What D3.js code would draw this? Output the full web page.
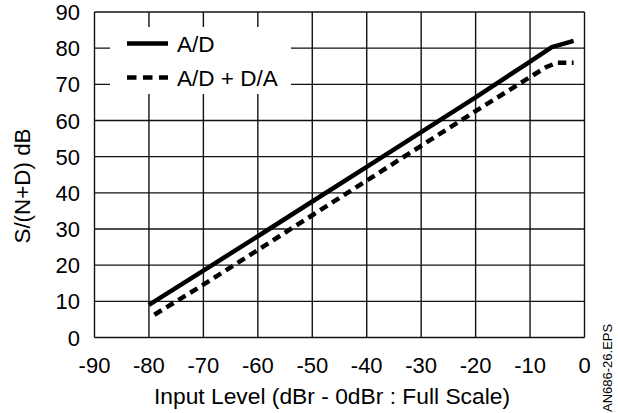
<!DOCTYPE html>
<html>
<head>
<meta charset="utf-8">
<script src="https://cdn.jsdelivr.net/npm/d3@7"></script>
<style>
  body { margin: 0; background: #fff; }
  text { font-family: "Liberation Sans", Arial, sans-serif; fill: #000; }
</style>
</head>
<body>
<div id="chart"></div>
<script>
// data
const xTicks = [-90, -80, -70, -60, -50, -40, -30, -20, -10, 0];
const yTicks = [0, 10, 20, 30, 40, 50, 60, 70, 80, 90];

const adLevel = [-80, -70, -60, -50, -40, -30, -20, -10, -6, -2];
const adSnr   = [9, 18.5, 28, 37.6, 47.2, 56.8, 66.4, 76.3, 80.3, 82];

const addaLevel = [-79, -70, -60, -50, -40, -30, -20, -10, -7, -5, -2];
const addaSnr   = [6.3, 14.6, 24.2, 33.8, 43.4, 53, 62.6, 72, 74.8, 76, 76];

const seriesNames = ["A/D", "A/D + D/A"];

// 1. svg
const width = 618, height = 413;
const margin = { top: 12, left: 94.5, right: 33.5, bottom: 75.5 };

const svg = d3.select("#chart")
    .append("svg")
    .attr("width", width)
    .attr("height", height);

// 2. scales
const xScale = d3.scaleLinear()
    .domain([-90, 0])
    .range([margin.left, width - margin.right]);

const yScale = d3.scaleLinear()
    .domain([0, 90])
    .range([height - margin.bottom, margin.top]);

// 3. grid
const grid = svg.append("g")
    .attr("stroke", "#111")
    .attr("stroke-width", 1.4);

grid.selectAll("line.v")
    .data(xTicks)
    .enter()
    .append("line")
        .attr("class", "v")
        .attr("x1", d => xScale(d))
        .attr("x2", d => xScale(d))
        .attr("y1", yScale(0))
        .attr("y2", yScale(90));

grid.selectAll("line.h")
    .data(yTicks)
    .enter()
    .append("line")
        .attr("class", "h")
        .attr("x1", xScale(-90))
        .attr("x2", xScale(0))
        .attr("y1", d => yScale(d))
        .attr("y2", d => yScale(d));

// 4. legend box hides the grid behind it
svg.append("rect")
    .attr("x", 110)
    .attr("y", 27)
    .attr("width", 181)
    .attr("height", 67)
    .attr("fill", "#fff");

// 5. lines
const line = d3.line()
    .x(d => xScale(d[0]))
    .y(d => yScale(d[1]));

svg.append("path")
    .datum(d3.zip(adLevel, adSnr))
    .attr("fill", "none")
    .attr("stroke", "#000")
    .attr("stroke-width", 4.5)
    .attr("stroke-linejoin", "round")
    .attr("d", line);

svg.append("path")
    .datum(d3.zip(addaLevel, addaSnr))
    .attr("fill", "none")
    .attr("stroke", "#000")
    .attr("stroke-width", 4.5)
    .attr("stroke-dasharray", "8.5,5.5")
    .attr("d", line);

// 6. legend
const legend = svg.append("g");
seriesNames.forEach(function(name, i) {
    const y = 43.5 + i * 34;
    legend.append("line")
        .attr("x1", 127).attr("x2", 168)
        .attr("y1", y).attr("y2", y)
        .attr("stroke", "#000")
        .attr("stroke-width", 4.5)
        .attr("stroke-dasharray", i === 0 ? null : "9.5,6.5");
    legend.append("text")
        .attr("x", 177)
        .attr("y", y + 8)
        .style("font-size", "22.5px")
        .text(name);
});

// 7. tick labels
svg.selectAll("text.ytick")
    .data(yTicks)
    .enter()
    .append("text")
        .attr("class", "ytick")
        .attr("x", 80)
        .attr("y", d => yScale(d) + 8)
        .attr("text-anchor", "end")
        .style("font-size", "22px")
        .text(d => d);

svg.selectAll("text.xtick")
    .data(xTicks)
    .enter()
    .append("text")
        .attr("class", "xtick")
        .attr("x", d => xScale(d))
        .attr("y", 373)
        .attr("text-anchor", "middle")
        .style("font-size", "22px")
        .text(d => d);

// 8. axis titles
svg.append("text")
    .attr("x", 332)
    .attr("y", 404)
    .attr("text-anchor", "middle")
    .style("font-size", "22.8px")
    .text("Input Level (dBr - 0dBr : Full Scale)");

svg.append("text")
    .attr("transform", "rotate(-90)")
    .attr("x", -186)
    .attr("y", 30)
    .attr("text-anchor", "middle")
    .style("font-size", "22.4px")
    .text("S/(N+D) dB");

svg.append("text")
    .attr("transform", "rotate(-90)")
    .attr("x", -412)
    .attr("y", 612)
    .attr("text-anchor", "start")
    .style("font-size", "13px")
    .text("AN686-26.EPS");
</script>
</body>
</html>
